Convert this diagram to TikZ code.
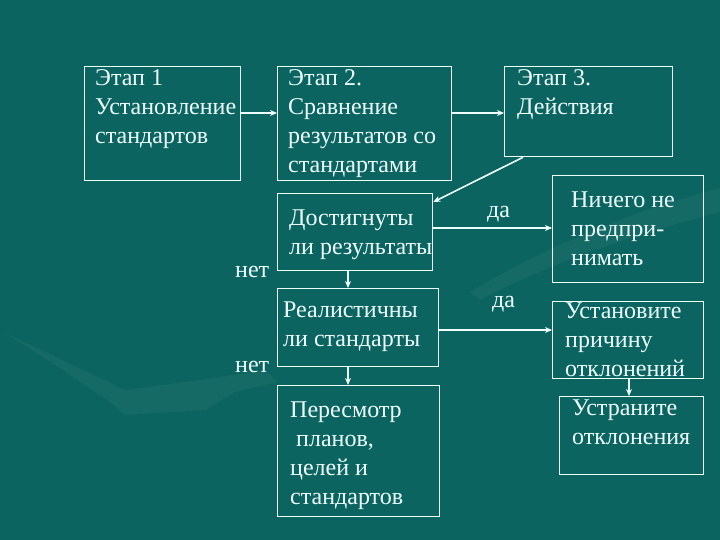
\documentclass[tikz,border=0pt]{standalone}
\usepackage{fontspec}
\setmainfont{Liberation Serif}
\newfontfamily\ruserif{Liberation Serif}
\usetikzlibrary{arrows.meta,calc}
\definecolor{bg}{RGB}{12,100,96}
\definecolor{fg}{RGB}{238,255,255}
\newcommand{\myst}{\rule{0pt}{20pt}}
\begin{document}
\begin{tikzpicture}[x=1pt,y=-1pt,
  box/.style={draw=fg,line width=1.3pt,inner sep=0pt,anchor=north west},
  txt/.style={anchor=north west,inner sep=0pt,align=left,text=fg,font=\ruserif\fontsize{24}{29}\selectfont},
  conn/.style={draw=fg,line width=1.6pt,-{Stealth[length=7pt,width=6pt]}},
  swoosh/.style={fill=white,fill opacity=0.04,draw=none}]
\fill[bg] (0,0) rectangle (720,540);
\useasboundingbox (0,0) rectangle (720,540);
% background decoration
\path[swoosh] (5,333) -- (100,378) -- (125,390) -- (215,378) -- (265,370) -- (278,382)
  -- (235,392) -- (205,410) -- (125,415) -- (110,402) -- (60,368) -- cycle;
\path[swoosh] (470,292) .. controls (540,250) and (620,215) .. (720,188)
  -- (720,212) .. controls (620,238) and (540,268) .. (480,300) -- cycle;
% boxes
\node[box,minimum width=156pt,minimum height=114pt] (b1) at (84,66) {};
\node[box,minimum width=174pt,minimum height=114pt] (b2) at (277,66) {};
\node[box,minimum width=168pt,minimum height=90pt] (b3) at (504,66) {};
\node[box,minimum width=155pt,minimum height=77pt] (b4) at (277,193) {};
\node[box,minimum width=151pt,minimum height=107pt] (b5) at (552,175) {};
\node[box,minimum width=161pt,minimum height=78pt] (b6) at (277,288) {};
\node[box,minimum width=151pt,minimum height=77pt] (b7) at (552,301) {};
\node[box,minimum width=144pt,minimum height=78pt] (b8) at (559,396) {};
\node[box,minimum width=162pt,minimum height=131pt] (b9) at (277,385) {};
% texts
\node[txt] (t1) at (95,65) {\myst Этап 1\\Установление\\стандартов};
\node[txt] (t2) at (288,65) {\myst Этап 2.\\Сравнение\\результатов со\\стандартами};
\node[txt] (t3) at (517,65) {\myst Этап 3.\\Действия};
\node[txt] (t4) at (289,205) {\myst Достигнуты\\ли результаты};
\node[txt] (t6) at (283,297) {\myst Реалистичны\\ли стандарты};
\node[txt] (t9) at (290,397) {\myst Пересмотр\\\ планов,\\целей и\\стандартов};
\node[txt] (t5) at (571,187) {\myst Ничего не\\предпри-\\нимать};
\node[txt] (t7) at (565,298) {\myst Установите\\причину\\отклонений};
\node[txt] (t8) at (572,395) {\myst Устраните\\отклонения};
\node[txt] (da1) at (487,197) {\myst да};
\node[txt] (da2) at (492,287) {\myst да};
\node[txt] (net1) at (235,257) {\myst нет};
\node[txt] (net2) at (235,352) {\myst нет};
% connectors
\coordinate (c12) at ([yshift=-47pt]b1.north east);
\draw[conn] (c12) -- (c12 -| b2.west);
\coordinate (c23) at ([yshift=-47pt]b2.north east);
\draw[conn] (c23) -- (c23 -| b3.west);
\coordinate (c34a) at ([xshift=19pt]b3.south west);
\coordinate (c34b) at ([yshift=-9pt]b4.north east);
\draw[conn] (c34a) -- (c34b);
\coordinate (c45) at ([yshift=-35pt]b4.north east);
\draw[conn] (c45) -- (c45 -| b5.west);
\coordinate (c46) at ([xshift=71pt]b4.south west);
\draw[conn] (c46) -- (c46 |- b6.north);
\coordinate (c67) at ([yshift=-42pt]b6.north east);
\draw[conn] (c67) -- (c67 -| b7.west);
\coordinate (c69) at ([xshift=71pt]b6.south west);
\draw[conn] (c69) -- (c69 |- b9.north);
\coordinate (c78) at ([xshift=77pt]b7.south west);
\draw[conn] (c78) -- (c78 |- b8.north);
\end{tikzpicture}
\end{document}
